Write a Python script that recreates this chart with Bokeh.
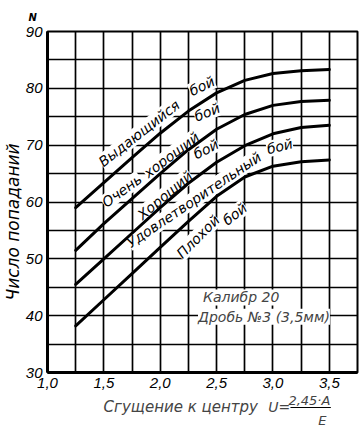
from bokeh.plotting import figure
from bokeh.layouts import column
from bokeh.models import FixedTicker, CustomJSTickFormatter, Label, Arrow, Title, Range1d
from bokeh.embed import file_html
from bokeh.resources import INLINE

# ---- data ----
x_vals = [1.25, 1.5, 1.75, 2.0, 2.25, 2.5, 2.75, 3.0, 3.25, 3.5]
boundary_1 = [59.0, 63.4, 67.8, 72.1, 76.0, 79.2, 81.4, 82.6, 83.1, 83.3]
boundary_2 = [51.5, 56.2, 60.6, 65.0, 69.2, 72.8, 75.4, 77.0, 77.7, 77.9]
boundary_3 = [45.5, 50.0, 54.5, 59.0, 63.3, 67.0, 69.9, 72.0, 73.1, 73.5]
boundary_4 = [38.2, 42.8, 47.4, 52.0, 56.6, 61.0, 64.4, 66.3, 67.1, 67.4]

x_tick_values = [1.0, 1.5, 2.0, 2.5, 3.0, 3.5]
x_grid_values = [1.0, 1.25, 1.5, 1.75, 2.0, 2.25, 2.5, 2.75, 3.0, 3.25, 3.5, 3.75]
y_tick_values = [30, 40, 50, 60, 70, 80, 90]
y_grid_values = [30, 35, 40, 45, 50, 55, 60, 65, 70, 75, 80, 85, 90]

label_words = ["Выдающийся", "бой", "Очень", "хороший", "бой", "Хороший", "бой",
               "Удовлетворительный", "бой", "Плохой", "бой"]
label_x = [1.813, 2.370, 1.660, 2.100, 2.415, 2.043, 2.406, 2.300, 3.060, 2.335, 2.662]
label_y = [72.1, 80.4, 62.0, 68.3, 75.8, 61.2, 69.3, 60.4, 69.8, 53.9, 57.9]
label_angle = [38, 26, 36, 37, 22, 40, 27, 34, 14, 45, 38]

FONT = "DejaVu Sans"
NUM_FONT = "Liberation Sans"

p = figure(width=361, height=394, x_range=(1.0, 3.75), y_range=(30, 90),
           output_backend="svg", toolbar_location=None, title=None,
           min_border_left=46, min_border_right=4, min_border_top=30,
           min_border_bottom=22)
p.background_fill_color = "white"
p.border_fill_color = "white"
p.outline_line_color = "black"
p.outline_line_width = 2

# axes
p.xaxis.ticker = FixedTicker(ticks=x_tick_values)
p.xaxis.formatter = CustomJSTickFormatter(code="return tick.toFixed(1).replace('.', ',');")
p.yaxis.ticker = FixedTicker(ticks=y_tick_values)
for ax in (p.xaxis, p.yaxis):
    ax.major_tick_in = 0
    ax.major_tick_out = 0
    ax.minor_tick_in = 0
    ax.minor_tick_out = 0
    ax.axis_line_color = "black"
    ax.axis_line_width = 3
    ax.major_label_text_font = NUM_FONT
    ax.major_label_text_font_style = "italic"
    ax.major_label_text_font_size = "15px"
    ax.major_label_text_color = "black"
p.xaxis.major_label_standoff = 5
p.yaxis.major_label_standoff = 5

# y title and "N"
p.add_layout(Title(text="Число попаданий", align="left", offset=72, standoff=0,
                   text_font=FONT, text_font_style="italic", text_font_size="17px",
                   text_color="black"), "left")
p.add_layout(Title(text="N", align="left", offset=-19, standoff=18,
                   text_font=FONT, text_font_style="bold italic", text_font_size="10px",
                   text_color="black"), "above")

# grid
p.xgrid.ticker = FixedTicker(ticks=x_grid_values)
p.ygrid.ticker = FixedTicker(ticks=y_grid_values)
for g in (p.xgrid, p.ygrid):
    g.grid_line_color = "black"
    g.grid_line_width = 1.7
    g.grid_line_alpha = 1.0

# curve labels (white background, under the curves)
for w, lx, ly, la in zip(label_words, label_x, label_y, label_angle):
    p.add_layout(Label(x=lx, y=ly, text=w, angle=la, angle_units="deg",
                       text_font=FONT, text_font_style="italic",
                       text_font_size="14px", text_color="black",
                       text_align="center", text_baseline="middle",
                       background_fill_color="white", level="underlay"))

# curves
for ys in (boundary_1, boundary_2, boundary_3, boundary_4):
    p.line(x_vals, ys, line_color="black", line_width=3, line_join="round", line_cap="round")

# notes
p.add_layout(Label(x=2.379, y=43.2, text="Калибр 20", text_font=FONT,
                   text_font_style="italic", text_font_size="14px",
                   text_align="left", text_baseline="middle",
                   background_fill_color="white"))
p.add_layout(Label(x=2.335, y=39.8, text="Дробь №3 (3,5мм)", text_font=FONT,
                   text_font_style="italic", text_font_size="14px",
                   text_align="left", text_baseline="middle",
                   background_fill_color="white"))

# ---- bottom strip holding the x-axis title with its formula ----
p2 = figure(width=361, height=34, x_range=Range1d(0.5932, 3.7854), y_range=Range1d(34, 0),
            output_backend="svg", toolbar_location=None, title=None,
            x_axis_type=None, y_axis_type=None,
            min_border_left=0, min_border_right=0, min_border_top=0, min_border_bottom=0)
p2.outline_line_color = None
p2.background_fill_color = "white"
p2.border_fill_color = "white"
p2.xgrid.visible = False
p2.ygrid.visible = False

p2.add_layout(Label(x=1.965, y=12, text="Сгущение к центру", text_font=FONT,
                    text_font_style="italic", text_font_size="15px",
                    text_align="center", text_baseline="middle"))
p2.add_layout(Label(x=2.866, y=12, text="U=", text_font=FONT,
                    text_font_style="italic", text_font_size="14px",
                    text_align="left", text_baseline="middle"))
p2.add_layout(Label(x=3.29, y=6, text="2,45·A", text_font=FONT,
                    text_font_style="italic", text_font_size="13px",
                    text_align="center", text_baseline="middle"))
p2.add_layout(Arrow(x_start=3.095, y_start=13, x_end=3.511, y_end=13,
                    end=None, line_color="black", line_width=1))
p2.add_layout(Label(x=3.423, y=26, text="E", text_font=FONT,
                    text_font_style="italic", text_font_size="13px",
                    text_align="center", text_baseline="middle"))

layout = column(p, p2, spacing=0)
open("out.html", "w").write(file_html(layout, INLINE))
